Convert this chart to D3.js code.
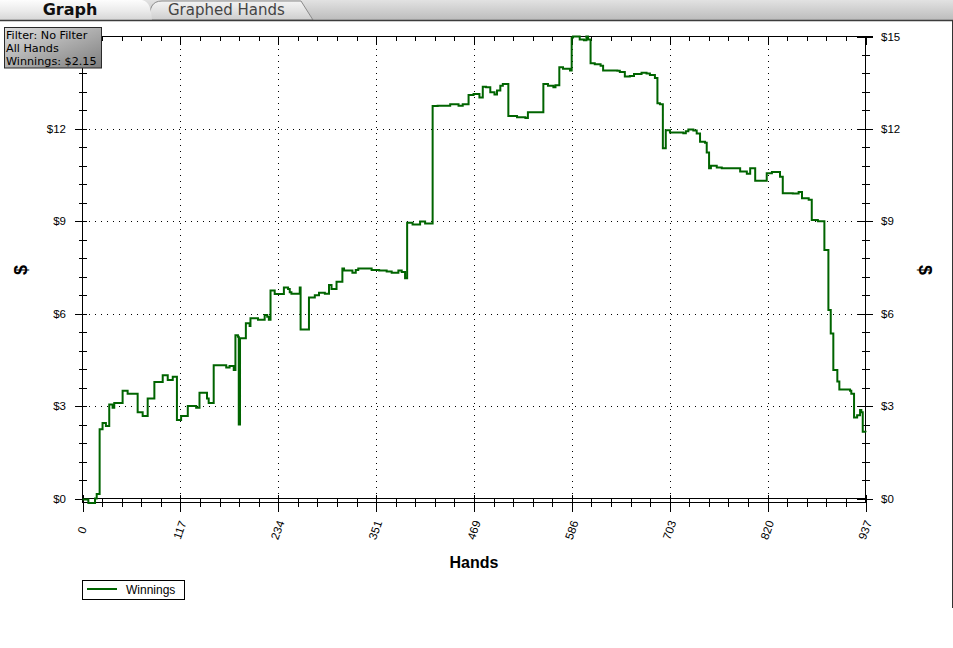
<!DOCTYPE html>
<html><head><meta charset="utf-8">
<script src="https://cdn.jsdelivr.net/npm/d3@7"></script>
<style>
body{margin:0;background:#fff;}
svg{display:block;font-family:"Liberation Sans",Arial,sans-serif;}
</style>
</head><body>
<svg id="chart" width="953" height="648"></svg>
<script>
// ---- data ----
const hands = [0,7,15,17,20.5,24,28,32,36,38,48,54,66,72,78,86,96,102,108,113,118,126,136,140,149,151,157,172,176,181,183,186,187,188.5,195.5,200,201,210,218,221,223,225,230,241,246,248,250,260,261,271,278,283,290,295,298,304,311,313,323,327,330,346,355,364,370,378,382,386,388.5,395,404,410,419,425,440,450,455,462,468,475,479,483,488,493,496,500,503,509.6,520,530,533,551.5,557,563.5,566,570.6,575,583.4,585.4,587,595,600,603,605,608,613,620,623,640,643,649,655,660,669,675,679,685,688,691,694.5,698,703,719,722,725,731,735,739,745,747,749.8,752,759,765,783,787,795,799,805,818.8,825,834.7,838,850,857,861,869,872.7,880,887.8,892.6,895.4,898.5,903.3,905.7,918.5,920,923.3,927,930.5,932,933.7,937];
const winnings = [-0.03,-0.15,0.0,0.15,2.25,2.45,2.35,3.05,2.95,3.1,3.5,3.4,2.8,2.68,3.25,3.78,4.0,3.85,3.95,2.55,2.68,3.0,2.95,3.43,3.25,3.1,4.33,4.25,4.3,4.17,5.3,5.25,2.4,5.2,5.69,5.6,5.85,5.8,5.96,5.9,5.8,6.75,6.64,6.85,6.8,6.7,6.65,6.85,5.49,6.53,6.6,6.68,6.65,6.93,6.8,7.04,7.47,7.4,7.33,7.42,7.47,7.42,7.4,7.37,7.33,7.4,7.35,7.15,8.95,8.9,8.99,8.93,12.74,12.75,12.8,12.75,12.8,13.1,13.13,13.02,13.37,13.35,13.19,13.12,13.25,13.4,13.46,12.42,12.38,12.35,12.54,13.46,13.4,13.35,13.42,14.0,13.95,13.9,14.97,15.0,14.9,14.88,15.0,14.9,14.13,14.1,14.05,13.9,13.89,13.85,13.7,13.72,13.78,13.82,13.8,13.75,13.65,12.83,12.8,11.37,11.96,11.88,11.86,11.92,11.98,11.95,11.85,11.58,11.55,11.23,10.72,10.8,10.75,10.72,10.72,10.62,10.54,10.72,10.32,10.56,10.6,10.45,9.91,9.9,9.95,9.75,9.7,9.04,9.0,8.07,6.12,5.36,4.17,3.8,3.54,3.5,3.4,2.63,2.7,2.87,2.8,2.17,2.15];
const xTickValues = [0,117,234,351,469,586,703,820,937];
const yTickValues = [0,3,6,9,12,15];
const yLeftLabelValues = [0,3,6,9,12]; // the $15 label on the left sits under the info box
const tabLabels = ["Graph","Graphed Hands"];
const infoLines = ["Filter: No Filter","All Hands","Winnings: $2.15"];
const seriesName = "Winnings";
const xTitle = "Hands";
const yTitle = "$";

// ---- setup ----
const svg = d3.select("#chart");
const defs = svg.append("defs");
const L = 82.5, R = 865.5, T = 36.5, B = 498.5;
const x = d3.scaleLinear().domain([0, 937]).range([L, R]);
const y = d3.scaleLinear().domain([0, 15]).range([B, T]);
const xMinor = d3.range(0, 41).map(i => i * 937 / 40);
const yMinor = d3.range(0, 26).map(i => i * 0.6);

function grad(id, stops, x2, y2) {
  const g = defs.append("linearGradient").attr("id", id)
    .attr("x1", 0).attr("y1", 0).attr("x2", x2).attr("y2", y2);
  stops.forEach(s => g.append("stop").attr("offset", s[0]).attr("stop-color", s[1]));
}
grad("gStrip", [[0, "#e2e2e2"], [1, "#bcbcbc"]], 0, 1);
grad("gTab1", [[0, "#fdfdfd"], [0.5, "#ececec"], [1, "#d6d6d6"]], 0, 1);
grad("gTab2", [[0, "#f4f4f4"], [0.5, "#e2e2e2"], [1, "#cdcdcd"]], 0, 1);
grad("gInfo", [[0, "#dedede"], [1, "#7e7e7e"]], 1, 1);

// ---- tab strip ----
svg.append("rect").attr("x", 0).attr("y", 0).attr("width", 953).attr("height", 20).attr("fill", "url(#gStrip)");
svg.append("path").attr("d", "M150,20 C149,8 152,1 162,1 L301,1 L313,20 Z")
  .attr("fill", "url(#gTab2)").attr("stroke", "#8a8a8a");
svg.append("path").attr("d", "M0,20 L0,0 L142,0 C150,2 151,10 152,20 Z")
  .attr("fill", "url(#gTab1)").attr("stroke", "none");
svg.append("text").attr("x", 70).attr("y", 15).attr("text-anchor", "middle")
  .attr("font-size", 16).attr("font-weight", "bold").attr("fill", "#111")
  .attr("font-family", "'DejaVu Sans',sans-serif").text(tabLabels[0]);
svg.append("text").attr("x", 168).attr("y", 15)
  .attr("font-size", 15).attr("fill", "#444")
  .attr("font-family", "'DejaVu Sans',sans-serif").text(tabLabels[1]);
svg.append("line").attr("x1", 0).attr("x2", 953).attr("y1", 20.5).attr("y2", 20.5)
  .attr("stroke", "#3c3c3c").attr("stroke-width", 1.5);
svg.append("line").attr("x1", 952.5).attr("x2", 952.5).attr("y1", 20).attr("y2", 608)
  .attr("stroke", "#333");

// ---- gridlines ----
const grid = svg.append("g").attr("stroke", "#000").attr("stroke-width", 1).attr("stroke-dasharray", "1 5").attr("shape-rendering", "crispEdges");
grid.selectAll(".vx").data(xTickValues.slice(1, -1)).join("line")
  .attr("x1", d => Math.round(x(d)) + 0.5).attr("x2", d => Math.round(x(d)) + 0.5)
  .attr("y1", T).attr("y2", B);
grid.selectAll(".hy").data(yTickValues.slice(1, -1)).join("line")
  .attr("x1", L).attr("x2", R)
  .attr("y1", d => Math.round(y(d)) + 0.5).attr("y2", d => Math.round(y(d)) + 0.5);

// ---- axes ----
function styleAxis(g) {
  g.select(".domain").remove();
  g.selectAll("line").attr("stroke", "#000").attr("shape-rendering", "crispEdges");
  g.selectAll("text").attr("fill", "#000").attr("font-size", 11.5).attr("font-family", "'Liberation Sans',Arial,sans-serif");
}
const fmt = d => "$" + d;
const fmtLeft = d => yLeftLabelValues.includes(d) ? "$" + d : "";
// left
svg.append("g").attr("transform", `translate(87,0)`)
  .call(d3.axisLeft(y).tickValues(yTickValues).tickSize(12).tickPadding(9).tickFormat(fmtLeft)).call(styleAxis);
svg.append("g").attr("transform", `translate(87,0)`)
  .call(d3.axisLeft(y).tickValues(yMinor).tickSize(8).tickFormat("")).call(styleAxis);
// right
svg.append("g").attr("transform", `translate(857,0)`)
  .call(d3.axisRight(y).tickValues(yTickValues).tickSize(16).tickPadding(8).tickFormat(fmt)).call(styleAxis);
svg.append("g").attr("transform", `translate(862,0)`)
  .call(d3.axisRight(y).tickValues(yMinor).tickSize(8).tickFormat("")).call(styleAxis);
// top
svg.append("g").attr("transform", `translate(0,${T})`)
  .call(d3.axisBottom(x).tickValues(xTickValues).tickSize(8).tickFormat("")).call(styleAxis);
svg.append("g").attr("transform", `translate(0,${T})`)
  .call(d3.axisBottom(x).tickValues(xMinor).tickSize(4.5).tickFormat("")).call(styleAxis);
// bottom
const bx = svg.append("g").attr("transform", `translate(0,495)`)
  .call(d3.axisBottom(x).tickValues(xTickValues).tickSize(17).tickFormat(d => d)).call(styleAxis);
bx.selectAll(".tick text").attr("text-anchor", "middle").attr("dy", "0.35em").attr("y", 0)
  .attr("transform", `translate(-1,35)rotate(-70)`);
svg.append("g").attr("transform", `translate(0,${B})`)
  .call(d3.axisBottom(x).tickValues(xMinor).tickSize(8.5).tickFormat("")).call(styleAxis);

// frame lines
const frame = svg.append("g").attr("stroke", "#000").attr("shape-rendering", "crispEdges");
frame.append("line").attr("x1", L).attr("x2", 873).attr("y1", T).attr("y2", T);
frame.append("line").attr("x1", L).attr("x2", L).attr("y1", T).attr("y2", 503);
frame.append("line").attr("x1", R).attr("x2", R).attr("y1", T).attr("y2", 503);
frame.append("line").attr("x1", L).attr("x2", R).attr("y1", B).attr("y2", B);
frame.append("line").attr("x1", L).attr("x2", R).attr("y1", 502.5).attr("y2", 502.5);

// ---- series ----
const pts = hands.map((h, i) => [h, winnings[i]]);
svg.append("path").datum(pts)
  .attr("fill", "none").attr("stroke", "#006400").attr("stroke-width", 2)
  .attr("d", d3.line().x(d => x(d[0])).y(d => y(d[1])).curve(d3.curveStepAfter));

// ---- titles ----
svg.append("text").attr("x", (L + R) / 2).attr("y", 568).attr("text-anchor", "middle")
  .attr("font-size", 16).attr("font-weight", "bold").text(xTitle);
svg.append("text").attr("transform", "translate(21,270)rotate(-90)").attr("text-anchor", "middle").attr("dy", "0.35em")
  .attr("font-size", 18).attr("font-weight", "bold").text(yTitle);
svg.append("text").attr("transform", "translate(925,270)rotate(90)").attr("text-anchor", "middle").attr("dy", "0.35em")
  .attr("font-size", 18).attr("font-weight", "bold").text(yTitle);

// ---- info box ----
svg.append("rect").attr("x", 4.5).attr("y", 27.5).attr("width", 97).attr("height", 40.5)
  .attr("fill", "url(#gInfo)").attr("stroke", "#2a2a2a");
svg.append("g").selectAll("text").data(infoLines).join("text")
  .attr("x", 6).attr("y", (d, i) => 38.5 + i * 13)
  .attr("font-size", 11.2).attr("fill", "#000")
  .attr("font-family", "'DejaVu Sans',sans-serif").text(d => d);

// ---- legend ----
const lg = svg.append("g");
lg.append("rect").attr("x", 82.5).attr("y", 580.5).attr("width", 102).attr("height", 19)
  .attr("fill", "#fff").attr("stroke", "#000").attr("shape-rendering", "crispEdges");
lg.append("line").attr("x1", 87).attr("x2", 117).attr("y1", 589).attr("y2", 589)
  .attr("stroke", "#006400").attr("stroke-width", 2);
lg.append("text").attr("x", 126).attr("y", 594).attr("font-size", 12).text(seriesName);
</script>
</body></html>
